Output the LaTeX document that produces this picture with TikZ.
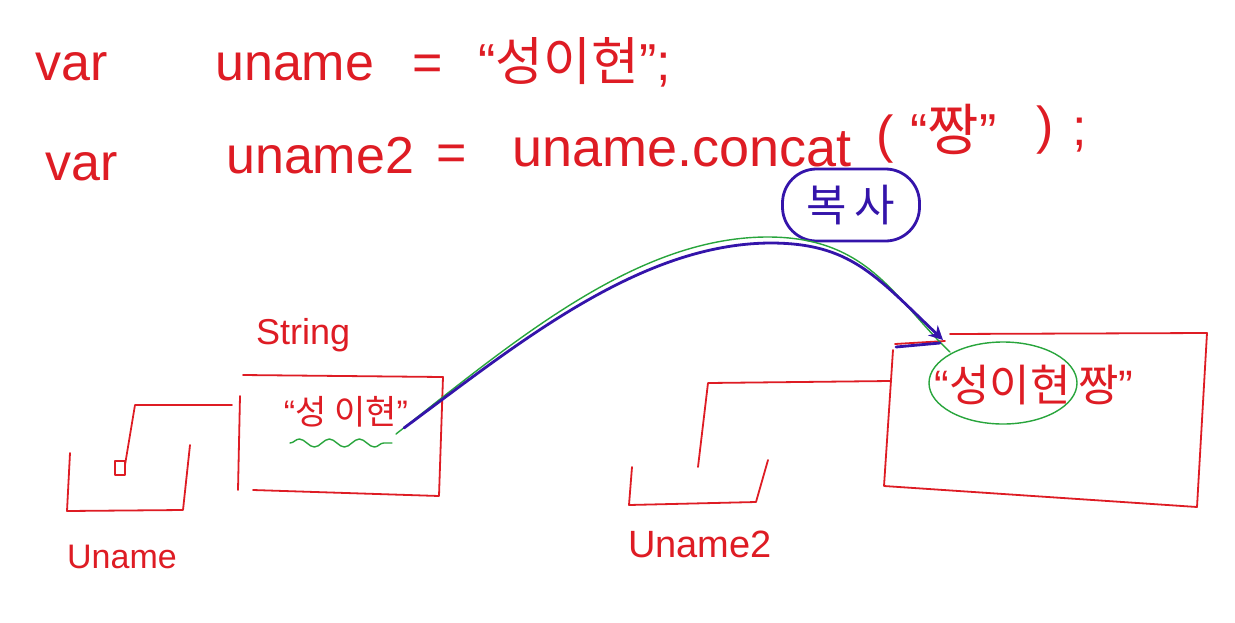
\documentclass[tikz,border=0pt]{standalone}
\usepackage{fontspec}
\setmainfont{Liberation Sans}
\newfontfamily\kr{Noto Sans CJK KR}
\usetikzlibrary{decorations.pathmorphing,arrows.meta,shapes.geometric}
\definecolor{pen}{RGB}{222,28,36}
\definecolor{ink}{RGB}{52,20,170}
\definecolor{hl}{RGB}{40,165,60}
\begin{document}
\begin{tikzpicture}[x=1pt,y=-1pt,line cap=round,line join=round,
  redline/.style={draw=pen,line width=1.8pt},
  code/.style={text=pen,font=\fontsize{52}{52}\selectfont,anchor=base west,inner sep=0pt},
  label/.style={text=pen,inner sep=0pt,anchor=base west},
  boxtext/.style={text=pen,inner sep=0pt},
  greenline/.style={draw=hl,line width=1.4pt},
  blueline/.style={draw=ink,line width=2.8pt}]
\useasboundingbox[fill=white] (0,0) rectangle (1235,622);
% code lines
\node[code] (v1) at (35,80) {var};
\node[code] (u1) at (215,80) {uname};
\node[code] (e1) at (412,80) {=};
\node[code] (s1) at (478,80) {“{\kr 성이현}”;};
\node[code] (v2) at (45,180) {var};
\node[code] (u2) at (226,173) {uname2};
\node[code] (e2) at (436,170) {=};
\node[code,font=\fontsize{54}{54}\selectfont] (c2) at (512,166) {uname.concat};
\node[code] (p1) at (876,152) {(};
\node[code] (q2) at (910,150) {“{\kr\fontsize{56}{56}\selectfont 짱}”};
\node[code] (p2) at (1036,143) {)};
\node[code] (sc) at (1072,145) {;};
% copy label
\node[draw=ink,line width=2.8pt,rounded corners=34pt,minimum width=137pt,minimum height=72pt,
  text=ink,font=\kr\fontsize{44}{44}\selectfont] (copy) at (851,205) {복\,사};
% uname variable box
\draw[redline] (70,453) -- (67,511) -- (183,510) -- (190,445);
\draw[redline] (115,461) rectangle (125,475);
\draw[redline] (125,465) -- (135,405) -- (232,405);
\node[label,font=\fontsize{34}{34}\selectfont] (lu) at (67,568) {Uname};
% String object box
\node[label,font=\fontsize{36}{36}\selectfont] (ls) at (256,344) {String};
\draw[redline] (240,396) -- (238,490);
\draw[redline] (243,375) -- (443,377) -- (439,496) -- (253,490);
\node[boxtext,font=\fontsize{34}{34}\selectfont] (t1) at (346,412) {“{\kr 성 이현}”};
\draw[greenline,decorate,decoration={snake,amplitude=4pt,segment length=30pt}] (290,443) -- (392,443);
% uname2 variable box
\draw[redline] (632,467) -- (629,505) -- (756,502) -- (768,460);
\draw[redline] (698,467) -- (708,383) -- (890,381);
\node[label,font=\fontsize{38}{38}\selectfont] (lu2) at (628,557) {Uname2};
% new string box
\draw[redline] (895,344) -- (945,341);
\draw[redline] (893,350) -- (884,486) -- (1197,507) -- (1207,333) -- (950,334);
\node[boxtext,font=\fontsize{44}{44}\selectfont] (t2) at (1034,385) {“{\kr 성이현\,짱}”};
\draw[greenline] (1003,383) ellipse [x radius=74pt,y radius=41pt];
% copy connector
\coordinate (cs) at (404,428);
\coordinate (ce) at (943,340);
\coordinate (gs) at (396,434);
\coordinate (ge) at (950,352);
\draw[greenline] (gs) .. controls (520,336) and (640,236) .. (770,237)
  .. controls (870,238) and (895,300) .. (ge);
\draw[blueline,-{Stealth[length=14pt,width=14pt]}] (cs) .. controls (520,342) and (640,244) .. (770,243)
  .. controls (850,243) and (875,275) .. (ce);
\draw[blueline] (896,347) -- (940,343);
\end{tikzpicture}
\end{document}
